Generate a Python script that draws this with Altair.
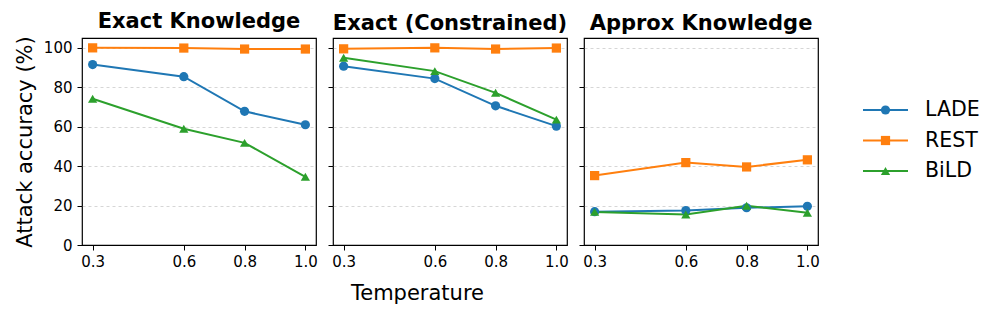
import altair as alt
import pandas as pd

temps = [0.3, 0.6, 0.8, 1.0]
methods = ["LADE", "REST", "BiLD"]
panels = ["Exact Knowledge", "Exact (Constrained)", "Approx Knowledge"]

exact_lade = [91.5, 85.4, 67.8, 61.0]
exact_rest = [100.0, 99.9, 99.4, 99.4]
exact_bild = [74.2, 59.0, 51.8, 34.6]

cons_lade = [90.7, 84.4, 70.6, 60.3]
cons_rest = [99.5, 100.0, 99.4, 99.9]
cons_bild = [95.0, 88.2, 77.2, 63.6]

approx_lade = [16.9, 17.5, 18.9, 19.6]
approx_rest = [35.2, 41.8, 39.6, 43.2]
approx_bild = [16.8, 15.5, 19.9, 16.3]

y_ticks = [0, 20, 40, 60, 80, 100]
colors = ["#1f77b4", "#ff7f0e", "#2ca02c"]
shapes = ["circle", "square", "triangle-up"]

series = {
    "Exact Knowledge": [exact_lade, exact_rest, exact_bild],
    "Exact (Constrained)": [cons_lade, cons_rest, cons_bild],
    "Approx Knowledge": [approx_lade, approx_rest, approx_bild],
}

rows = []
for p in panels:
    for m, vals in zip(methods, series[p]):
        for t, v in zip(temps, vals):
            rows.append({"panel": p, "method": m, "temp": t, "acc": v})
df = pd.DataFrame(rows)
legend_df = pd.DataFrame({"method": methods})

color_scale = alt.Scale(domain=methods, range=colors)
grid_op = {"condition": {"test": "datum.value === 0", "value": 0}, "value": 1}


def panel(i, name):
    d = df[df.panel == name]
    x_axis_kwargs = dict(
        values=temps, format=".1f", grid=False, labelFontSize=15,
        labelColor="black", tickColor="black", tickSize=5, domain=False,
        labelPadding=4,
    )
    if i == 1:
        x_axis_kwargs.update(title="Temperature", titleFontSize=21,
                             titleFontWeight="normal", titleX=84,
                             titlePadding=13, titleColor="black")
    else:
        x_axis_kwargs.update(title=None)
    y_axis_kwargs = dict(
        values=y_ticks, grid=True, gridDash=[3, 3], gridColor="#cccccc",
        gridWidth=0.8, gridOpacity=grid_op, tickColor="black", tickSize=5,
        domain=False, labelFontSize=15, labelColor="black", labelPadding=5,
    )
    if i == 0:
        y_axis_kwargs.update(title="Attack accuracy (%)", titleFontSize=21,
                             titleFontWeight="normal", titlePadding=8,
                             titleColor="black")
    else:
        y_axis_kwargs.update(title=None, labels=False)

    x = alt.X("temp:Q", scale=alt.Scale(domain=[0.265, 1.035], nice=False, zero=False),
              axis=alt.Axis(**x_axis_kwargs))
    y = alt.Y("acc:Q", scale=alt.Scale(domain=[0, 105], nice=False),
              axis=alt.Axis(**y_axis_kwargs))
    color = alt.Color("method:N", scale=color_scale, legend=None)
    base = alt.Chart(d)
    layers = [base.mark_line(strokeWidth=2).encode(x=x, y=y, color=color)]
    for m, shp in zip(methods, shapes):
        layers.append(
            base.transform_filter(alt.datum.method == m)
            .mark_point(filled=True, size=85, opacity=1, shape=shp)
            .encode(x=x, y=y, color=color)
        )
    return alt.layer(*layers).properties(
        width=234, height=207,
        title=alt.TitleParams(name, fontSize=21, fontWeight="bold",
                              font="DejaVu Sans", offset=4, color="black"),
    )


# legend drawn as a small chart: line segment + marker + label per method
lbase = alt.Chart(legend_df).transform_window(idx="row_number()")
ly = alt.Y("idx:Q", scale=alt.Scale(domain=[-1.361, 5.426], nice=False, zero=False,
                                    reverse=True), axis=None)
lc = alt.Color("method:N", scale=color_scale, legend=None)
leg_layers = [
    lbase.mark_rule(strokeWidth=2).encode(x=alt.value(0), x2=alt.value(45), y=ly, color=lc)
]
for m, shp in zip(methods, shapes):
    leg_layers.append(
        lbase.transform_filter(alt.datum.method == m)
        .mark_point(filled=True, size=85, opacity=1, shape=shp)
        .encode(x=alt.value(22.5), y=ly, color=lc)
    )
leg_layers.append(
    lbase.mark_text(align="left", baseline="middle", fontSize=20.5,
                    font="DejaVu Sans", color="black")
    .encode(x=alt.value(62), y=ly, text="method:N")
)
legend_chart = alt.layer(*leg_layers).properties(
    width=115, height=207, view=alt.ViewBackground(stroke="transparent")
)

panels_chart = alt.hconcat(*[panel(i, p) for i, p in enumerate(panels)], spacing=8)

chart = alt.hconcat(panels_chart, legend_chart, spacing=41).resolve_scale(
    color="shared"
).configure(font="DejaVu Sans").configure_view(
    stroke="black", strokeWidth=1.2
).properties(padding={"left": 5, "top": 2, "right": 5, "bottom": 5})

chart.save("out.html", embed_options={"renderer": "svg", "actions": False})
